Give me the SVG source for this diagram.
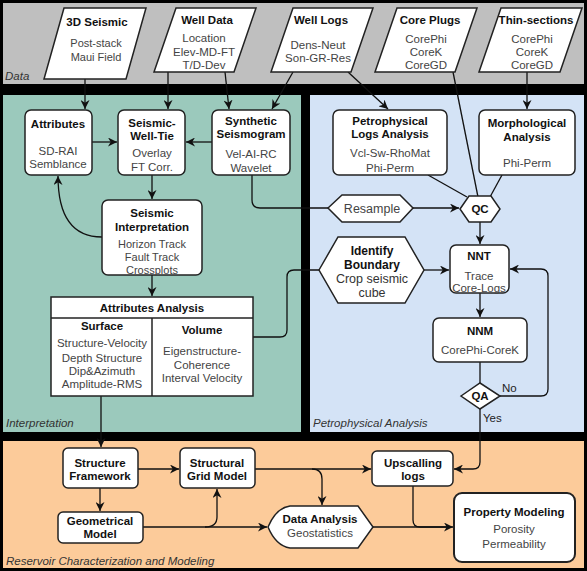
<svg xmlns="http://www.w3.org/2000/svg" width="587" height="571" viewBox="0 0 587 571">
<defs>
<style>
.t{font-family:"Liberation Sans",Arial,sans-serif;font-weight:bold;font-size:11.5px;fill:#111;text-anchor:middle}
.s{font-family:"Liberation Sans",Arial,sans-serif;font-size:11.5px;fill:#444;text-anchor:middle}
.lb{font-family:"Liberation Sans",Arial,sans-serif;font-style:italic;font-size:11.5px;fill:#333}
.yn{font-family:"Liberation Sans",Arial,sans-serif;font-size:11.5px;fill:#222}
.n{fill:#fff;stroke:#222;stroke-width:1.5}
.c{fill:none;stroke:#111;stroke-width:1.3}
.a{marker-end:url(#ar)}
</style>
<marker id="ar" viewBox="0 0 10 10" refX="10" refY="5" markerWidth="9" markerHeight="9" markerUnits="userSpaceOnUse" orient="auto">
<path d="M0,0 L10,5 L0,10 L3,5 Z" fill="#111"/>
</marker>
</defs>
<rect x="0" y="0" width="587" height="571" fill="#000"/>
<g id="regions">
<rect x="3" y="3" width="581" height="81" fill="#bfbfbf"/>
<rect x="3" y="95" width="298" height="337" fill="#9bc9bc"/>
<rect x="310" y="95" width="274" height="337" fill="#d4e3f6"/>
<rect x="3" y="441" width="581" height="127" fill="#fccb9a"/>
<text class="lb" x="5" y="80">Data</text>
<text class="lb" x="6" y="427">Interpretation</text>
<text class="lb" x="313" y="427">Petrophysical Analysis</text>
<text class="lb" x="6" y="565">Reservoir Characterization and Modeling</text>
</g>
<g id="connectors">
<path class="c a" d="M85,79 V109"/>
<path class="c a" d="M168,72 V109"/>
<path class="c a" d="M225,72 L229,109"/>
<path class="c a" d="M293,72 L272,109"/>
<path class="c a" d="M348,72 L388,109"/>
<path class="c" d="M453,72 L478,197"/>
<path class="c a" d="M527,72 V109"/>
<path class="c a" d="M92,142 H117"/>
<path class="c a" d="M212,142 H186"/>
<path class="c a" d="M152,175 V199"/>
<path class="c a" d="M102,237 C72,237 58,215 58,176"/>
<path class="c a" d="M152,275 V296"/>
<path class="c" d="M252,175 V200 Q252,208 260,208 H328"/>
<path class="c a" d="M413,208 H459"/>
<path class="c" d="M428,175 L467,197"/>
<path class="c" d="M502,175 L490,197"/>
<path class="c a" d="M480,222 V244"/>
<path class="c" d="M253,337 H280 Q287,337 287,330 V277 Q287,270 294,270 H319"/>
<path class="c a" d="M424,270 H449"/>
<path class="c a" d="M480,293 V317"/>
<path class="c" d="M480,362 V383"/>
<path class="c a" d="M500,396 H541 Q548,396 548,389 V276 Q548,269 541,269 H510"/>
<path class="c a" d="M480,409 V462 Q480,469 473,469 H454"/>
<path class="c a" d="M101,396 V447"/>
<path class="c a" d="M138,469 H179"/>
<path class="c a" d="M100,488 V511"/>
<path class="c a" d="M143,527 H267"/>
<path class="c a" d="M205,527 Q217,527 217,517 V489"/>
<path class="c a" d="M255,469 H371"/>
<path class="c a" d="M312,469 Q322,469 322,479 V505"/>
<path class="c a" d="M373,527 H453"/>
<path class="c" d="M413,486 V520 Q413,527 420,527 H450"/>
<text class="yn" x="502" y="392">No</text>
<text class="yn" x="483" y="422">Yes</text>
</g>
<g id="n3dseismic">
<polygon class="n" points="64,8 146,8 126,79 44,79"/>
<text class="t" x="97" y="26">3D Seismic</text>
<text class="s" x="96" y="47" style="font-size:11px">Post-stack</text>
<text class="s" x="96" y="61" style="font-size:11px">Maui Field</text>
</g>
<g id="nwelldata">
<polygon class="n" points="176,8 256,8 234,72 154,72"/>
<text class="t" x="207" y="24">Well Data</text>
<text class="s" x="204" y="42">Location</text>
<text class="s" x="204" y="56">Elev-MD-FT</text>
<text class="s" x="204" y="69">T/D-Dev</text>
</g>
<g id="nwelllogs">
<polygon class="n" points="293,8 373,8 351,72 271,72"/>
<text class="t" x="321" y="24">Well Logs</text>
<text class="s" x="318" y="49">Dens-Neut</text>
<text class="s" x="318" y="62">Son-GR-Res</text>
</g>
<g id="ncoreplugs">
<polygon class="n" points="397,8 477,8 455,72 375,72"/>
<text class="t" x="430" y="24">Core Plugs</text>
<text class="s" x="426" y="43">CorePhi</text>
<text class="s" x="426" y="56">CoreK</text>
<text class="s" x="426" y="69">CoreGD</text>
</g>
<g id="nthinsections">
<polygon class="n" points="501,8 582,8 560,72 479,72"/>
<text class="t" x="536" y="24">Thin-sections</text>
<text class="s" x="532" y="43">CorePhi</text>
<text class="s" x="532" y="56">CoreK</text>
<text class="s" x="532" y="69">CoreGD</text>
</g>
<g id="nattributes">
<rect class="n" x="25" y="110" width="67" height="65" rx="6"/>
<text class="t" x="58" y="128">Attributes</text>
<text class="s" x="58" y="155">SD-RAI</text>
<text class="s" x="58" y="168">Semblance</text>
</g>
<g id="nseismicwelltie">
<rect class="n" x="118" y="110" width="67" height="65" rx="6"/>
<text class="t" x="152" y="127">Seismic-</text>
<text class="t" x="152" y="140">Well-Tie</text>
<text class="s" x="152" y="157">Overlay</text>
<text class="s" x="152" y="171">FT Corr.</text>
</g>
<g id="nsynthetic">
<rect class="n" x="212" y="110" width="78" height="65" rx="6"/>
<text class="t" x="251" y="125">Synthetic</text>
<text class="t" x="251" y="138">Seismogram</text>
<text class="s" x="251" y="158">Vel-AI-RC</text>
<text class="s" x="251" y="172">Wavelet</text>
</g>
<g id="nseismicinterp">
<rect class="n" x="102" y="200" width="100" height="75" rx="6"/>
<text class="t" x="152" y="217">Seismic</text>
<text class="t" x="152" y="231">Interpretation</text>
<text class="s" x="152" y="248" style="font-size:11px">Horizon Track</text>
<text class="s" x="152" y="261" style="font-size:11px">Fault Track</text>
<text class="s" x="152" y="274" style="font-size:11px">Crossplots</text>
</g>
<g id="nattranalysis">
<rect class="n" x="51" y="297" width="202" height="99"/>
<line x1="51" y1="318" x2="253" y2="318" stroke="#222" stroke-width="1.5"/>
<line x1="152" y1="318" x2="152" y2="396" stroke="#222" stroke-width="1.5"/>
<text class="t" x="152" y="312">Attributes Analysis</text>
<text class="t" x="102" y="330">Surface</text>
<text class="s" x="102" y="347">Structure-Velocity</text>
<text class="s" x="102" y="362">Depth Structure</text>
<text class="s" x="102" y="375">Dip&amp;Azimuth</text>
<text class="s" x="102" y="388">Amplitude-RMS</text>
<text class="t" x="202" y="334">Volume</text>
<text class="s" x="202" y="355">Eigenstructure-</text>
<text class="s" x="202" y="369">Coherence</text>
<text class="s" x="202" y="382">Interval Velocity</text>
</g>
<g id="npetrologs">
<rect class="n" x="333" y="110" width="114" height="65" rx="6"/>
<text class="t" x="390" y="125">Petrophysical</text>
<text class="t" x="390" y="138">Logs Analysis</text>
<text class="s" x="390" y="157">Vcl-Sw-RhoMat</text>
<text class="s" x="390" y="172">Phi-Perm</text>
</g>
<g id="nmorph">
<rect class="n" x="479" y="110" width="96" height="65" rx="6"/>
<text class="t" x="527" y="127">Morphological</text>
<text class="t" x="527" y="141">Analysis</text>
<text class="s" x="527" y="167">Phi-Perm</text>
</g>
<g id="nresample">
<polygon class="n" points="328,208 342,195 400,195 413,208 400,222 342,222"/>
<text class="s" x="372" y="213" style="font-size:12.5px">Resample</text>
</g>
<g id="nqc">
<polygon class="n" points="460,209 469,196 491,196 500,209 491,222 469,222"/>
<text class="t" x="480" y="213">QC</text>
</g>
<g id="nidentify">
<polygon class="n" points="319,270 338,237 405,237 424,270 405,303 338,303"/>
<text class="t" x="372" y="255" style="font-size:12px">Identify</text>
<text class="t" x="372" y="269" style="font-size:12px">Boundary</text>
<text class="s" x="372" y="283" style="font-size:12.5px;fill:#333">Crop seismic</text>
<text class="s" x="372" y="297" style="font-size:12.5px;fill:#333">cube</text>
</g>
<g id="nnnt">
<rect class="n" x="450" y="245" width="59" height="48" rx="6"/>
<text class="t" x="479" y="260">NNT</text>
<text class="s" x="479" y="280">Trace</text>
<text class="s" x="479" y="292">Core-Logs</text>
</g>
<g id="nnnm">
<rect class="n" x="433" y="318" width="94" height="44" rx="6"/>
<text class="t" x="480" y="335">NNM</text>
<text class="s" x="480" y="354">CorePhi-CoreK</text>
</g>
<g id="nqa">
<polygon class="n" points="461,396 480,383 500,396 480,409"/>
<text class="t" x="480" y="400">QA</text>
</g>
<g id="nstructframe">
<rect class="n" x="63" y="448" width="75" height="40" rx="5"/>
<text class="t" x="100" y="467">Structure</text>
<text class="t" x="100" y="480">Framework</text>
</g>
<g id="nstructgrid">
<rect class="n" x="180" y="448" width="75" height="40" rx="5"/>
<text class="t" x="217" y="467">Structural</text>
<text class="t" x="217" y="480">Grid Model</text>
</g>
<g id="ngeometrical">
<rect class="n" x="58" y="512" width="85" height="31" rx="5"/>
<text class="t" x="100" y="525">Geometrical</text>
<text class="t" x="100" y="538">Model</text>
</g>
<g id="ndataanalysis">
<path class="n" d="M268,527 Q276,508 290,506 H358 L373,527 L358,548 H290 Q276,546 268,527 Z"/>
<text class="t" x="320" y="523">Data Analysis</text>
<text class="s" x="320" y="537">Geostatistics</text>
</g>
<g id="nupscalling">
<rect class="n" x="372" y="451" width="81" height="35" rx="5"/>
<text class="t" x="413" y="467">Upscalling</text>
<text class="t" x="413" y="480">logs</text>
</g>
<g id="npropmodel">
<rect class="n" x="454" y="493" width="121" height="69" rx="8" style="stroke-width:2"/>
<text class="t" x="514" y="516">Property Modeling</text>
<text class="s" x="514" y="533">Porosity</text>
<text class="s" x="514" y="548">Permeability</text>
</g>
</svg>
